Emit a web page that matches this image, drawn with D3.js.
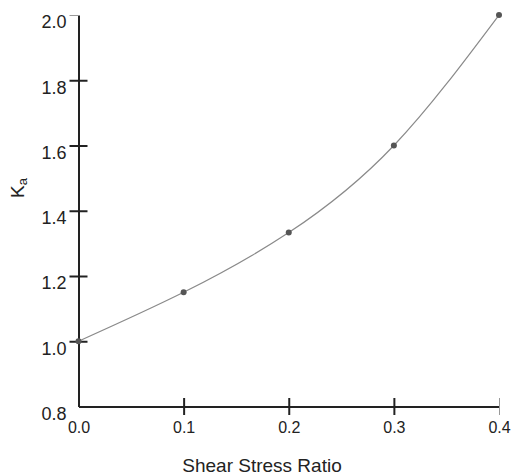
<!DOCTYPE html>
<html lang="en">
<head>
  <meta charset="UTF-8">
  <title>Ka vs Shear Stress Ratio</title>
  <style>
    body { margin: 0; background: #fff; }
    svg { display: block; font-family: "Liberation Sans", Arial, sans-serif; }
    .axis path { stroke: #222; stroke-width: 2px; }
    .axis line { stroke: #222; stroke-width: 2px; }
    .axis text { fill: #222; }
    .curve { fill: none; stroke: #8a8a8a; stroke-width: 1.2px; }
    .dot { fill: #555; }
  </style>
</head>
<body>
  <script src="https://d3js.org/d3.v7.min.js"></script>
  <svg id="chart" width="513" height="476"></svg>
  <script>
    // data
    const shearRatio = [0.0, 0.1, 0.2, 0.3, 0.4]
    const kaValues = [1.0, 1.15, 1.333, 1.6, 2.0]
    const xTicks = [0.0, 0.1, 0.2, 0.3, 0.4]
    const yTicks = [0.8, 1.0, 1.2, 1.4, 1.6, 1.8, 2.0]

    let svg = d3.select('#chart')
    let x = d3.scaleLinear().domain([0, 0.4]).range([78.5, 499])
    let y = d3.scaleLinear().domain([0.8, 2.0]).range([406.5, 15])
    let fmt = d3.format('.1f')

    // y axis, ticks cross the line
    let yAxis = svg.append('g')
      .attr('class', 'axis')
      .attr('transform', 'translate(78.5,0)')
      .call(d3.axisLeft(y).tickValues(yTicks).tickFormat(fmt).tickSize(9).tickSizeOuter(0))
    yAxis.selectAll('.tick line').attr('x1', 9).attr('x2', -9)
    yAxis.selectAll('.tick text')
      .attr('x', -12)
      .attr('dy', '0.72em')
      .style('font-size', '18px')
    yAxis.selectAll('.tick').filter(d => d === 0.8).select('line').remove()
    yAxis.selectAll('.tick').filter(d => d === 2.0).select('line')
      .attr('x1', 0).style('stroke', '#999').style('stroke-width', '1px')

    // x axis
    let xAxis = svg.append('g')
      .attr('class', 'axis')
      .attr('transform', 'translate(0,406.5)')
      .call(d3.axisBottom(x).tickValues(xTicks).tickFormat(fmt).tickSize(8.5).tickSizeOuter(0))
    xAxis.selectAll('.tick line').attr('y1', -8.5).attr('y2', 8.5)
    xAxis.selectAll('.tick text')
      .attr('y', 15)
      .attr('dy', '0.71em')
      .style('font-size', '16px')
    xAxis.selectAll('.tick').filter(d => d === 0).select('line').remove()
    xAxis.selectAll('.tick').filter(d => d === 0.4).select('line')
      .style('stroke', '#999').style('stroke-width', '1px')

    // fitted curve through the points
    let pts = shearRatio.map((s, i) => [s, kaValues[i]])
    let line = d3.line()
      .x(d => x(d[0]))
      .y(d => y(d[1]))
      .curve(d3.curveNatural)
    svg.append('path')
      .datum(pts)
      .attr('class', 'curve')
      .attr('d', line)

    svg.selectAll('.dot')
      .data(pts)
      .enter()
      .append('circle')
      .attr('class', 'dot')
      .attr('cx', d => x(d[0]))
      .attr('cy', d => y(d[1]))
      .attr('r', 3)

    // axis titles
    svg.append('text')
      .attr('x', 262)
      .attr('y', 472)
      .attr('text-anchor', 'middle')
      .style('font-size', '19px')
      .style('fill', '#222')
      .text('Shear Stress Ratio')

    let ka = svg.append('text')
      .attr('transform', 'translate(24,188) rotate(-90)')
      .attr('text-anchor', 'middle')
      .style('font-size', '19px')
      .style('fill', '#222')
    ka.append('tspan').text('K')
    ka.append('tspan').attr('dy', 3).style('font-size', '13px').text('a')
  </script>
</body>
</html>
